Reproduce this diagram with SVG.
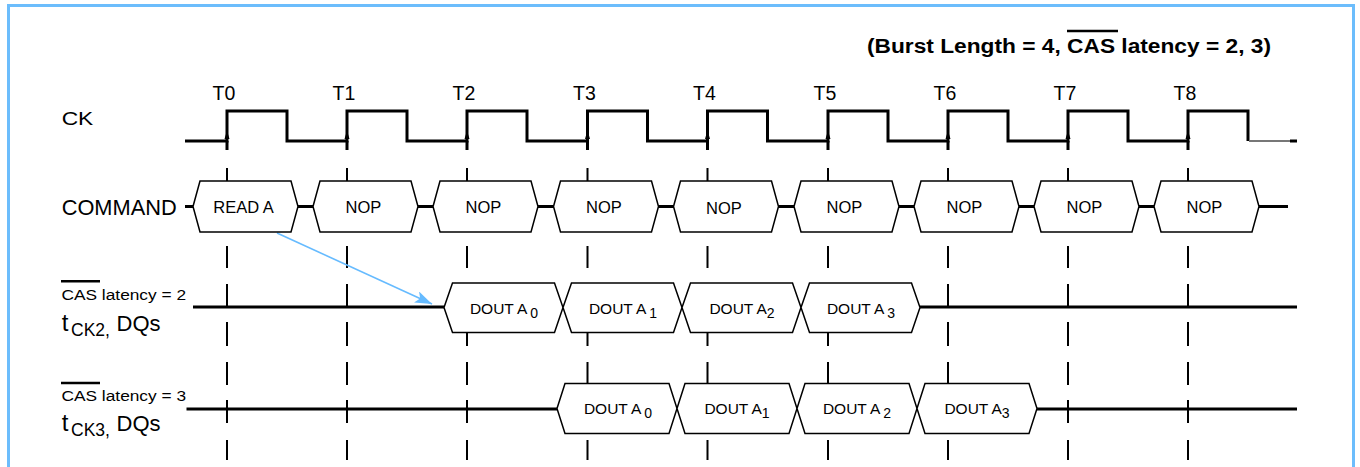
<svg xmlns="http://www.w3.org/2000/svg" width="1360" height="467" viewBox="0 0 1360 467">
<defs>
<style>
.txt{font-family:"Liberation Sans",Arial,sans-serif;fill:#000}
.lbl{font-size:19.5px}
.box{fill:#fff;stroke:#000;stroke-width:1.5;stroke-linejoin:miter}
.btxt{font-family:"Liberation Sans",Arial,sans-serif;font-size:15.5px;fill:#000;text-anchor:middle}
.ctxt{font-size:16.5px}
.sig{fill:none;stroke:#000;stroke-width:3}
.dash{fill:none;stroke:#000;stroke-width:2}
.ovl{stroke:#000;stroke-width:2.5}
</style>
<marker id="ah" markerUnits="userSpaceOnUse" markerWidth="18" markerHeight="12" refX="17" refY="6" orient="auto">
<path d="M0,0 L17,6 L0,12 L4,6 Z" fill="#66bbff"/>
</marker>
</defs>
<rect x="0" y="0" width="1360" height="467" fill="#fff"/>
<rect x="8.5" y="5.5" width="1345" height="470" fill="none" stroke="#6cbdfc" stroke-width="3"/>

<!-- title -->
<g id="title">
<text class="txt" x="867" y="52.5" font-size="20" font-weight="bold" textLength="404" lengthAdjust="spacingAndGlyphs">(Burst Length = 4, CAS latency = 2, 3)</text>
<line x1="1067" y1="31" x2="1118" y2="31" stroke="#000" stroke-width="2.3"/>
</g>

<!-- row labels -->
<g id="labels">
<text class="txt" x="61.7" y="124.5" font-size="18.5" textLength="31.6" lengthAdjust="spacingAndGlyphs">CK</text>
<text class="txt" x="61.7" y="215" font-size="21.5" textLength="115" lengthAdjust="spacingAndGlyphs">COMMAND</text>
<text class="txt" x="61.5" y="299.5" font-size="15.5" textLength="124.5" lengthAdjust="spacingAndGlyphs">CAS latency = 2</text>
<line class="ovl" x1="61" y1="281.3" x2="100" y2="281.3"/>
<text class="txt" x="61.7" y="330.5" font-size="24">t<tspan x="71" y="335.5" font-size="17.5">CK2,</tspan><tspan x="116.5" y="330.5" font-size="22">DQs</tspan></text>
<text class="txt" x="61.5" y="400.5" font-size="15.5" textLength="124.5" lengthAdjust="spacingAndGlyphs">CAS latency = 3</text>
<line class="ovl" x1="61" y1="383" x2="100" y2="383"/>
<text class="txt" x="61.7" y="430.5" font-size="24">t<tspan x="71" y="435.5" font-size="17.5">CK3,</tspan><tspan x="116.5" y="430.5" font-size="22">DQs</tspan></text>
</g>

<!-- clock labels -->
<g id="tlabels" class="txt lbl" text-anchor="middle">
<text x="224" y="100">T0</text>
<text x="344" y="100">T1</text>
<text x="464" y="100">T2</text>
<text x="584.5" y="100">T3</text>
<text x="704.5" y="100">T4</text>
<text x="825" y="100">T5</text>
<text x="945" y="100">T6</text>
<text x="1065" y="100">T7</text>
<text x="1185" y="100">T8</text>
</g>

<!-- guide dashes -->
<g id="guides" class="dash">
<path d="M227,168V181M227,246V268M227,284V307M227,322V346M227,362V385M227,400V423M227,440V460"/>
<path d="M347,168V181M347,246V268M347,284V307M347,322V346M347,362V385M347,400V423M347,440V460"/>
<path d="M467,168V181M467,246V268M467,284V307M467,322V346M467,362V385M467,400V423M467,440V460"/>
<path d="M587.5,168V181M587.5,246V268M587.5,284V307M587.5,322V346M587.5,362V385M587.5,400V423M587.5,440V460"/>
<path d="M707.5,168V181M707.5,246V268M707.5,284V307M707.5,322V346M707.5,362V385M707.5,400V423M707.5,440V460"/>
<path d="M828,168V181M828,246V268M828,284V307M828,322V346M828,362V385M828,400V423M828,440V460"/>
<path d="M948,168V181M948,246V268M948,284V307M948,322V346M948,362V385M948,400V423M948,440V460"/>
<path d="M1068,168V181M1068,246V268M1068,284V307M1068,322V346M1068,362V385M1068,400V423M1068,440V460"/>
<path d="M1188,168V181M1188,246V268M1188,284V307M1188,322V346M1188,362V385M1188,400V423M1188,440V460"/>
</g>

<!-- clock -->
<g id="clock">
<path class="sig" d="M185,141H227V111H287V141H347V111H407V141H467V111H527V141H587.5V111H647.5V141H707.5V111H767.5V141H828V111H888V141H948V111H1008V141H1068V111H1128V141H1188V111H1248V141"/>
<path class="sig" d="M227,141V150M347,141V150M467,141V150M587.5,141V150M707.5,141V150M828,141V150M948,141V150M1068,141V150M1188,141V150"/>
<line x1="1249" y1="141" x2="1291" y2="141" stroke="#777" stroke-width="2"/>
<line x1="1290" y1="141" x2="1297" y2="141" stroke="#000" stroke-width="3"/>
<g fill="#000">
<path d="M224.5,139L227,130.5L229.5,139Z"/><path d="M344.5,139L347,130.5L349.5,139Z"/><path d="M464.5,139L467,130.5L469.5,139Z"/>
<path d="M585,139L587.5,130.5L590,139Z"/><path d="M705,139L707.5,130.5L710,139Z"/><path d="M825.5,139L828,130.5L830.5,139Z"/>
<path d="M945.5,139L948,130.5L950.5,139Z"/><path d="M1065.5,139L1068,130.5L1070.5,139Z"/><path d="M1185.5,139L1188,130.5L1190.5,139Z"/>
</g>
</g>

<!-- connectors -->
<g id="connectors">
<path class="sig" d="M185,206.5H193M298,206.5H313M418,206.5H433M538,206.5H553.5M658.5,206.5H673.5M778.5,206.5H794M899,206.5H914M1019,206.5H1034M1139,206.5H1154M1259,206.5H1288"/>
<path class="sig" d="M193,307H444M920,307H1297"/>
<path class="sig" d="M186.5,409H557M1037,409H1297"/>
<line x1="277" y1="233" x2="432" y2="304" stroke="#66bbff" stroke-width="1.6" marker-end="url(#ah)"/>
</g>

<!-- command boxes -->
<g id="cmd0"><path class="box" d="M193,206.5L200,181H291L298,206.5L291,232H200Z"/><text class="btxt ctxt" x="243.5" y="212.5">READ A</text></g>
<g id="cmd1"><path class="box" d="M313,206.5L320,181H411L418,206.5L411,232H320Z"/><text class="btxt ctxt" x="363.5" y="212.5">NOP</text></g>
<g id="cmd2"><path class="box" d="M433,206.5L440,181H531L538,206.5L531,232H440Z"/><text class="btxt ctxt" x="483.5" y="212.5">NOP</text></g>
<g id="cmd3"><path class="box" d="M553.5,206.5L560.5,181H651.5L658.5,206.5L651.5,232H560.5Z"/><text class="btxt ctxt" x="604" y="212.5">NOP</text></g>
<g id="cmd4"><path class="box" d="M673.5,206.5L680.5,181H771.5L778.5,206.5L771.5,232H680.5Z"/><text class="btxt ctxt" x="724" y="214">NOP</text></g>
<g id="cmd5"><path class="box" d="M794,206.5L801,181H892L899,206.5L892,232H801Z"/><text class="btxt ctxt" x="844.5" y="212.5">NOP</text></g>
<g id="cmd6"><path class="box" d="M914,206.5L921,181H1012L1019,206.5L1012,232H921Z"/><text class="btxt ctxt" x="964.5" y="212.5">NOP</text></g>
<g id="cmd7"><path class="box" d="M1034,206.5L1041,181H1132L1139,206.5L1132,232H1041Z"/><text class="btxt ctxt" x="1084.5" y="212.5">NOP</text></g>
<g id="cmd8"><path class="box" d="M1154,206.5L1161,181H1252L1259,206.5L1252,232H1161Z"/><text class="btxt ctxt" x="1204.5" y="212.5">NOP</text></g>

<!-- CAS latency 2 data -->
<g id="cl2d0"><path class="box" d="M444,307.5L452.5,283H554.5L563,307.5L554.5,332.5H452.5Z"/><text class="btxt" x="504" y="314">DOUT A<tspan dx="3" dy="4" font-size="14">0</tspan></text></g>
<g id="cl2d1"><path class="box" d="M563,307.5L571.5,283H673.5L682,307.5L673.5,332.5H571.5Z"/><text class="btxt" x="623" y="314">DOUT A<tspan dx="3" dy="4" font-size="14">1</tspan></text></g>
<g id="cl2d2"><path class="box" d="M682,307.5L690.5,283H792.5L801,307.5L792.5,332.5H690.5Z"/><text class="btxt" x="742" y="314">DOUT A<tspan dy="4" font-size="14">2</tspan></text></g>
<g id="cl2d3"><path class="box" d="M801,307.5L809.5,283H911.5L920,307.5L911.5,332.5H809.5Z"/><text class="btxt" x="861" y="314">DOUT A<tspan dx="3" dy="4" font-size="14">3</tspan></text></g>

<!-- CAS latency 3 data -->
<g id="cl3d0"><path class="box" d="M557,408.5L565,383.5H669L677,408.5L669,433.5H565Z"/><text class="btxt" x="618" y="413.5">DOUT A<tspan dx="3" dy="4" font-size="14">0</tspan></text></g>
<g id="cl3d1"><path class="box" d="M677,408.5L685,383.5H789L797,408.5L789,433.5H685Z"/><text class="btxt" x="737" y="413.5">DOUT A<tspan dy="4" font-size="14">1</tspan></text></g>
<g id="cl3d2"><path class="box" d="M797,408.5L805,383.5H909L917,408.5L909,433.5H805Z"/><text class="btxt" x="857" y="413.5">DOUT A<tspan dx="3" dy="4" font-size="14">2</tspan></text></g>
<g id="cl3d3"><path class="box" d="M917,408.5L925,383.5H1029L1037,408.5L1029,433.5H925Z"/><text class="btxt" x="977" y="413.5">DOUT A<tspan dy="4" font-size="14">3</tspan></text></g>
</svg>
